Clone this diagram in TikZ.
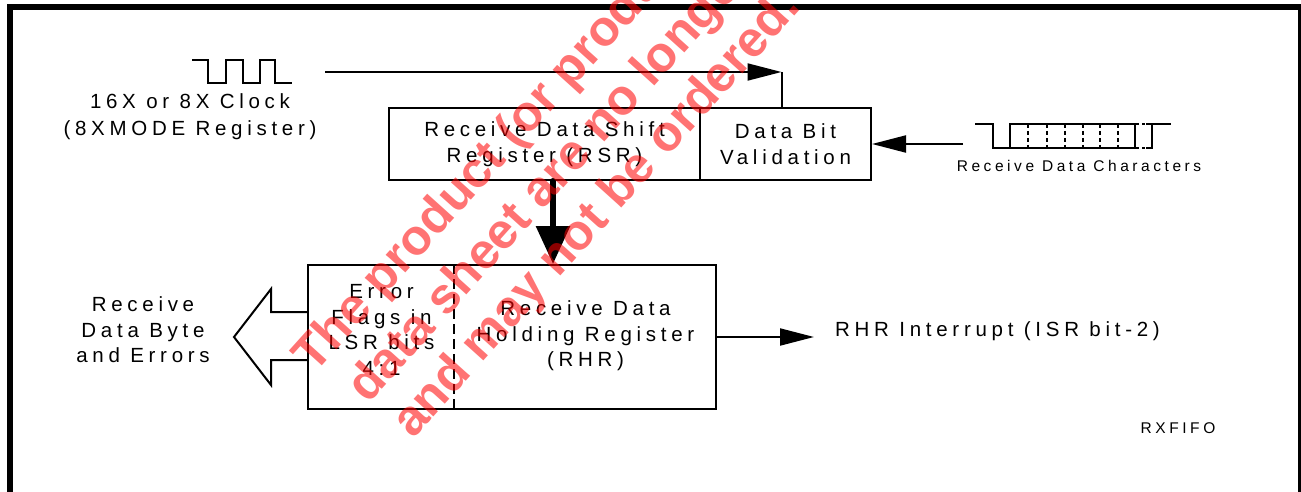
\documentclass[tikz,border=0pt]{standalone}
\usepackage{fontspec}
\setmainfont{Liberation Sans}
\newfontfamily\lblfont[LetterSpace=23]{Liberation Sans}
\usetikzlibrary{arrows.meta}
\begin{document}
\begin{tikzpicture}[x=1pt,y=-1pt,
  blk/.style={draw,line width=2pt,inner sep=0pt},
  lbl/.style={font=\lblfont\fontsize{20.5}{25.5}\selectfont,align=center,inner sep=0pt},
  small/.style={font=\lblfont\fontsize{15.5}{18}\selectfont,inner sep=0pt},
  wire/.style={line width=2pt},
  big/.style={-{Triangle[length=34pt,width=17pt]}},
  wm/.style={font=\bfseries\fontsize{50}{50}\selectfont,text=red,inner sep=0pt,anchor=base west,rotate=48}]
\useasboundingbox (0,0) rectangle (1301,492);

\draw[line width=6pt] (10,492) -- (10,7) -- (1301,7);
\draw[line width=3pt] (1299.5,7) -- (1299.5,492);

\node[blk,lbl,minimum width=311pt,minimum height=72pt] (rsr) at (544.5,144) {Receive Data Shift\\Register (RSR)};
\node[blk,lbl,minimum width=171pt,minimum height=72pt] (dbv) at (785.5,144) {Data Bit\\Validation};
\node[blk,minimum width=408pt,minimum height=144pt] (hold) at (512,337) {};
\node[lbl] (err) at (381.5,330) {Error\\Flags in\\LSR bits\\4:1};
\node[lbl] (rhr) at (585.5,336) {Receive Data\\Holding Register\\(RHR)};
\draw[wire,dash pattern=on 10pt off 5pt] ([xshift=147pt]hold.north west) -- ([xshift=147pt]hold.south west);

\node[lbl,font=\lblfont\fontsize{20.5}{27.5}\selectfont] (clktxt) at (190,116.5) {16X or 8X Clock\\(8XMODE Register)};
\node[lbl] (outtxt) at (143,330) {Receive\\Data Byte\\and Errors};
\node[lbl,anchor=west] (irq) at (835,331) {RHR Interrupt (ISR bit-2)};
\node[small] (rxtxt) at (1079,166) {Receive Data Characters};
\node[small] (fifo) at (1178,428) {RXFIFO};

\coordinate (clk) at (325,72);
\coordinate (rxd) at (963,144);
\coordinate (irqin) at (814,337);

\draw[wire] (192,60) -- (208,60) -- (208,83) -- (226,83) -- (226,60) -- (243,60) -- (243,83)
  -- (260,83) -- (260,60) -- (275,60) -- (275,83) -- (292,83);
\draw[wire] (975,124) -- (993,124) -- (993,148) -- (1010,148);
\draw[wire] (1010,124) rectangle (1135,148);
\foreach \x in {1028,1047,1065,1083,1100,1118}
  \draw[wire,dash pattern=on 4pt off 3pt] (\x,124) -- (\x,148);
\draw[wire,dash pattern=on 4pt off 3pt] (1135,124) -- (1145,124) (1135,148) -- (1145,148);
\draw[wire] (1146,124) -- (1171,124) (1146,148) -- (1152,148) -- (1152,124);

\draw[wire,big] (clk) -- ([xshift=-4pt]dbv.north |- clk);
\draw[wire] ([xshift=-4pt]dbv.north) -- ([xshift=-4pt]dbv.north |- clk);
\draw[wire,big] (rxd) -- (dbv.east);
\draw[line width=6pt,line cap=round,-{Triangle[length=38pt,width=33pt]}] ([xshift=8.5pt]rsr.south) -- ([xshift=8.5pt]rsr.south |- hold.north);
\draw[wire,big] (hold.east) -- (irqin);
\draw[wire] ([yshift=25pt]hold.west) -- ++(-36,0) -- ++(0,-23) -- ++(-37,48) -- ++(37,48) -- ++(0,-25) -- ++(36,0);

\begin{scope}[opacity=0.55]
\clip (0,0) rectangle (1301,492);
\node[wm] (wm1) at (314,375) {The product (or products) described in this};
\node[wm] (wm2) at (368,405) {data sheet are no longer in production};
\node[wm] (wm3) at (413,440) {and may not be ordered.};
\end{scope}
\end{tikzpicture}
\end{document}
